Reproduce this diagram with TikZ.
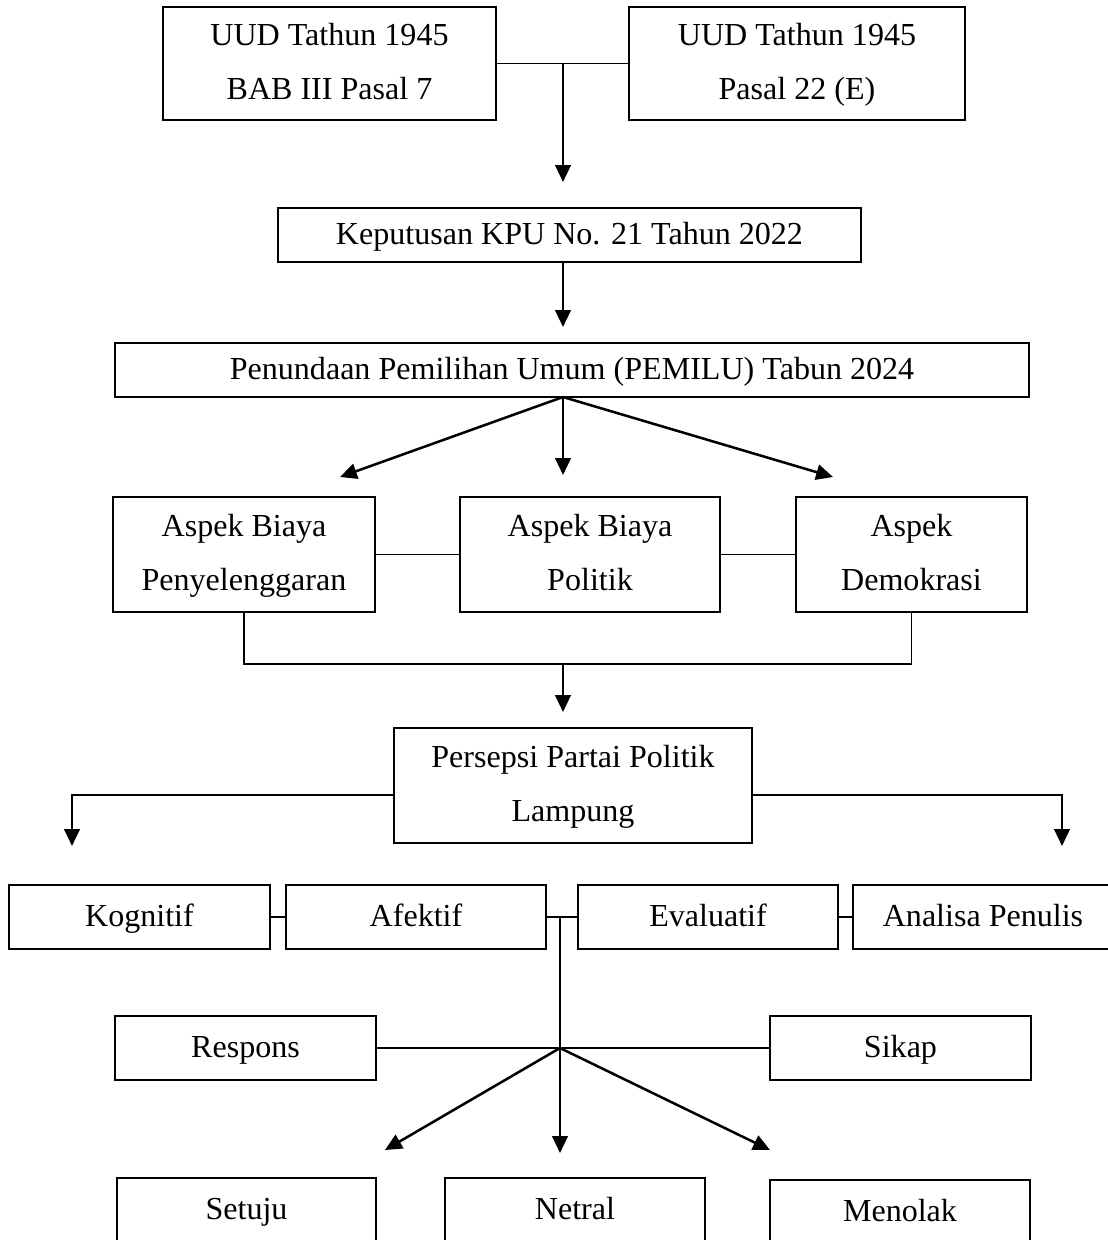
\documentclass[tikz,border=0pt]{standalone}
\usepackage{fontspec}
\setmainfont{Liberation Serif}
\usetikzlibrary{arrows.meta}

\begin{document}
\begin{tikzpicture}[x=0.0125cm,y=-0.0125cm,
  kotak/.style 2 args={draw, line width=0.7pt, minimum width=#1*0.0125cm,
    minimum height=#2*0.0125cm, inner sep=0pt, align=center,
    text height=9.5pt, text depth=3pt,
    font=\fontsize{11.4}{19}\selectfont},
  dualine/.style={text height=28.5pt},
  garis/.style={line width=0.7pt},
  panah/.style={line width=0.9pt, -{Triangle[width=5.5pt,length=6pt]}}]
\useasboundingbox (0,0) rectangle (1108,1240);

% dasar hukum
\node[kotak={333}{113}, dualine] (uud1) at (329.5,63.5) {UUD Tathun 1945\\BAB III Pasal 7};
\node[kotak={336}{113}, dualine] (uud2) at (797,63.5) {UUD Tathun 1945\\Pasal 22 (E)};
\node[kotak={583}{54}] (kpu) at (569.5,235) {Keputusan KPU No. 21 Tahun 2022};
\node[kotak={914}{54}] (tunda) at (572,370) {Penundaan Pemilihan Umum (PEMILU) Tabun 2024};

% aspek
\node[kotak={262}{115}, dualine] (biaya) at (244,554.5) {Aspek Biaya\\Penyelenggaran};
\node[kotak={260}{115}, dualine] (politik) at (590,554.5) {Aspek Biaya\\Politik};
\node[kotak={231}{115}, dualine] (demokrasi) at (911.5,554.5) {Aspek\\Demokrasi};

\node[kotak={358}{115}, dualine] (persepsi) at (573,785.5) {Persepsi Partai Politik\\Lampung};

% komponen persepsi
\node[kotak={261}{64}] (kognitif) at (139.5,917) {Kognitif};
\node[kotak={260}{64}] (afektif) at (416,917) {Afektif};
\node[kotak={260}{64}] (evaluatif) at (708,917) {Evaluatif};
\node[kotak={260}{64}] (analisa) at (983,917) {Analisa Penulis};

\node[kotak={261}{64}] (respons) at (245.5,1048) {Respons};
\node[kotak={261}{64}] (sikap) at (900.5,1048) {Sikap};

\node[kotak={259}{64}] (setuju) at (246.5,1210) {Setuju};
\node[kotak={260}{64}] (netral) at (575,1210) {Netral};
\node[kotak={260}{64}] (menolak) at (900,1212) {Menolak};

% titik bantu
\coordinate (j1) at (563,63.5);
\coordinate (t1) at (563,182);
\coordinate (t2) at (563,327);
\coordinate (j2) at (563,397);
\coordinate (t3a) at (340,477);
\coordinate (t3b) at (563,475);
\coordinate (t3c) at (833,477);
\coordinate (j3) at (563,664);
\coordinate (t4) at (563,712);
\coordinate (tkiri) at (72,846);
\coordinate (tkanan) at (1062,846);
\coordinate (j4) at (560,917);
\coordinate (j5) at (560,1048);
\coordinate (t5a) at (385,1150);
\coordinate (t5b) at (560,1153);
\coordinate (t5c) at (770,1150);

\draw[garis] (uud1.east) -- (uud2.west);
\draw[panah] (j1) -- (t1);
\draw[panah] (kpu.south -| j1) -- (t2);
\draw[panah] (j2) -- (t3a);
\draw[panah] (j2) -- (t3b);
\draw[panah] (j2) -- (t3c);

\draw[garis] (biaya.east) -- (politik.west);
\draw[garis] (politik.east) -- (demokrasi.west);
\draw[garis] (biaya.south) |- (j3) -| (demokrasi.south);
\draw[panah] (j3) -- (t4);

\draw[panah] ([yshift=-9.5*0.0125cm]persepsi.west) -| (tkiri);
\draw[panah] ([yshift=-9.5*0.0125cm]persepsi.east) -| (tkanan);

\draw[garis] (kognitif.east) -- (afektif.west);
\draw[garis] (afektif.east) -- (evaluatif.west);
\draw[garis] (evaluatif.east) -- (analisa.west);
\draw[garis] (j4) -- (j5);
\draw[garis] (respons.east) -- (sikap.west);
\draw[panah] (j5) -- (t5a);
\draw[panah] (j5) -- (t5b);
\draw[panah] (j5) -- (t5c);
\end{tikzpicture}
\end{document}
